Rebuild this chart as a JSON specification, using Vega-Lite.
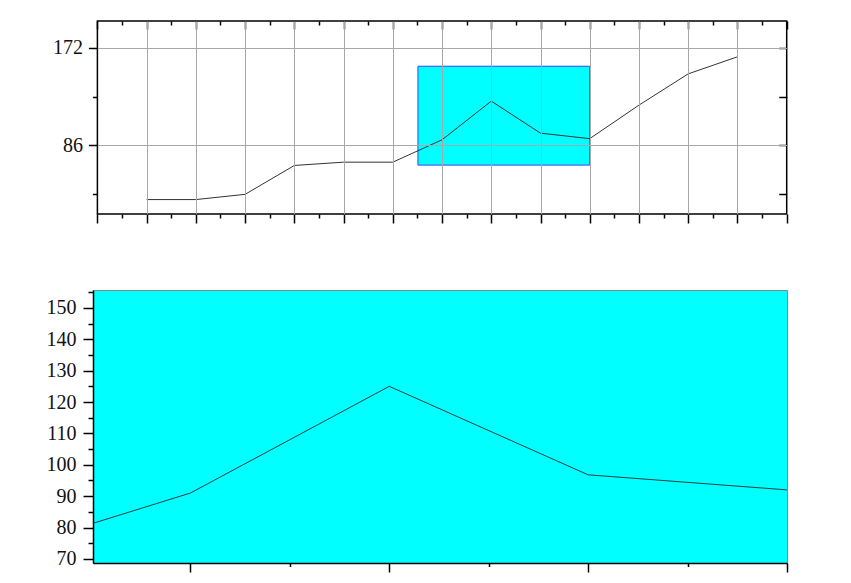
{
  "$schema": "https://vega.github.io/schema/vega-lite/v6.json",
  "background": "white",
  "padding": {"left": 39, "top": 20, "right": 5, "bottom": 5},
  "spacing": 65,
  "config": {
    "font": "Liberation Serif",
    "axis": {
      "labelFont": "Liberation Serif",
      "labelFontSize": 20,
      "labelColor": "#111111",
      "domainColor": "black",
      "domainWidth": 1.5,
      "tickColor": "black",
      "tickWidth": 1.5,
      "title": null,
      "gridColor": "#a8a8a8",
      "gridWidth": 1
    }
  },
  "datasets": {
    "series": [
      {"x": 1, "y": 38.4},
      {"x": 2, "y": 38.4},
      {"x": 3, "y": 43},
      {"x": 4, "y": 68.4},
      {"x": 5, "y": 71.3},
      {"x": 6, "y": 71.3},
      {"x": 7, "y": 91},
      {"x": 8, "y": 125},
      {"x": 9, "y": 96.8},
      {"x": 10, "y": 92},
      {"x": 11, "y": 121.5},
      {"x": 12, "y": 149},
      {"x": 13, "y": 164}
    ],
    "box": [{"xa": 6.51, "xb": 10, "ya": 68.7, "yb": 155.7}],
    "frame": [{"xa": 0, "xb": 14, "ya": 25.7, "yb": 195.5}]
  },
  "vconcat": [
    {
      "width": 693.7,
      "height": 193,
      "view": {"stroke": null},
      "layer": [
        {
          "data": {"name": "box"},
          "mark": {"type": "rect", "fill": "#00ffff", "stroke": "#3344ff", "strokeWidth": 1},
          "encoding": {
            "x": {
              "field": "xa", "type": "quantitative",
              "scale": {"domain": [-0.0894, 14], "nice": false, "zero": false},
              "axis": {
                "orient": "top",
                "domain": false,
                "values": [0, 0.5, 1, 1.5, 2, 2.5, 3, 3.5, 4, 4.5, 5, 5.5, 6, 6.5, 7, 7.5, 8, 8.5, 9, 9.5, 10, 10.5, 11, 11.5, 12, 12.5, 13, 13.5, 14],
                "labels": false,
                "grid": false,
                "tickSize": {"condition": {"test": "datum.value % 1 === 0", "value": -8}, "value": -4}
              }
            },
            "x2": {"field": "xb"},
            "y": {
              "field": "ya", "type": "quantitative",
              "scale": {"domain": [25.7, 195.5], "nice": false, "zero": false},
              "axis": {
                "orient": "right",
                "domain": false,
                "values": [43, 86, 129, 172],
                "labels": false,
                "grid": false,
                "minExtent": 0,
                "tickSize": -8
              }
            },
            "y2": {"field": "yb"}
          }
        },
        {
          "data": {"name": "series"},
          "mark": {"type": "line", "color": "#333333", "strokeWidth": 1},
          "encoding": {
            "x": {
              "field": "x", "type": "quantitative",
              "scale": {"domain": [-0.0894, 14], "nice": false, "zero": false},
              "axis": {
                "orient": "bottom",
                "domain": false,
                "zindex": 1,
                "values": [0, 0.5, 1, 1.5, 2, 2.5, 3, 3.5, 4, 4.5, 5, 5.5, 6, 6.5, 7, 7.5, 8, 8.5, 9, 9.5, 10, 10.5, 11, 11.5, 12, 12.5, 13, 13.5, 14],
                "labels": false,
                "grid": true,
                "gridOpacity": {"condition": {"test": "datum.value % 1 === 0 && datum.value > 0 && datum.value < 14", "value": 1}, "value": 0},
                "tickSize": {"condition": {"test": "datum.value % 1 === 0", "value": 9}, "value": 4}
              }
            },
            "y": {
              "field": "y", "type": "quantitative",
              "scale": {"domain": [25.7, 195.5], "nice": false, "zero": false},
              "axis": {
                "orient": "left",
                "domain": false,
                "offset": -4.4,
                "zindex": 1,
                "values": [43, 86, 129, 172],
                "labelExpr": "datum.value % 86 === 0 ? datum.label : ''",
                "labelPadding": 6,
                "minExtent": 53.3,
                "grid": true,
                "gridOpacity": {"condition": {"test": "datum.value % 86 === 0", "value": 1}, "value": 0},
                "tickSize": {"condition": {"test": "datum.value % 86 === 0", "value": 9}, "value": 5}
              }
            }
          }
        },
        {
          "data": {"name": "frame"},
          "mark": {"type": "rect", "fill": null, "fillOpacity": 0, "stroke": "black", "strokeWidth": 1.5},
          "encoding": {
            "x": {"field": "xa", "type": "quantitative", "axis": null},
            "x2": {"field": "xb"},
            "y": {"field": "ya", "type": "quantitative", "axis": null},
            "y2": {"field": "yb"}
          }
        }
      ],
      "resolve": {"axis": {"x": "independent", "y": "independent"}}
    },
    {
      "width": 694,
      "height": 273,
      "view": {"fill": "#00ffff", "stroke": "#888888", "strokeWidth": 1},
      "data": {"name": "series"},
      "mark": {"type": "line", "clip": true, "color": "#1f3f3f", "strokeWidth": 1},
      "encoding": {
        "x": {
          "field": "x", "type": "quantitative",
          "scale": {"domain": [6.51, 10], "nice": false, "zero": false},
          "axis": {
            "values": [7, 7.5, 8, 8.5, 9, 9.5, 10],
            "labels": false,
            "grid": false,
            "tickSize": {"condition": {"test": "datum.value % 1 === 0", "value": 9}, "value": 3.5}
          }
        },
        "y": {
          "field": "y", "type": "quantitative",
          "scale": {"domain": [68.7, 155.7], "nice": false, "zero": false},
          "axis": {
            "values": [70, 75, 80, 85, 90, 95, 100, 105, 110, 115, 120, 125, 130, 135, 140, 145, 150, 155],
            "labelExpr": "datum.value % 10 === 0 ? datum.label : ''",
            "labelPadding": 7,
            "minExtent": 53.3,
            "grid": false,
            "tickSize": {"condition": {"test": "datum.value % 10 === 0", "value": 10}, "value": 5}
          }
        }
      }
    }
  ]
}
